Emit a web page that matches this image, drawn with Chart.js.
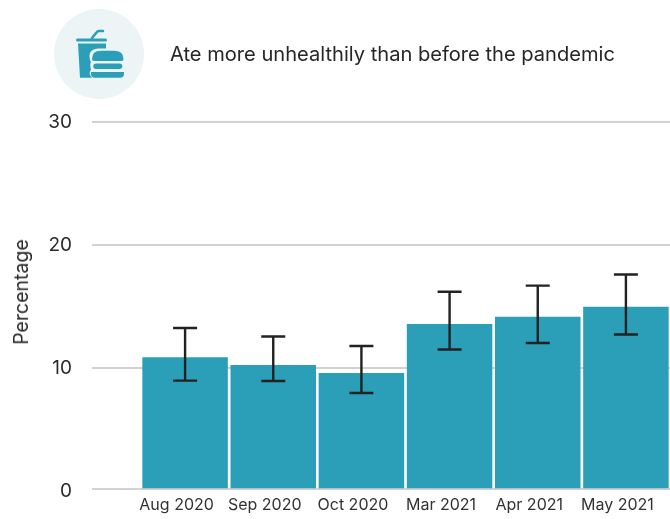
<!DOCTYPE html>
<html><head><meta charset="utf-8">
<style>
html,body{margin:0;padding:0;background:#fff;overflow:hidden}
#w{position:relative;width:670px;height:519px}
canvas{position:absolute;left:0;top:0}
#icon{position:absolute;left:54px;top:9px;width:90px;height:90px}
#t{position:absolute;left:170px;top:42px;font:20.1px/24px Inter,sans-serif;color:#262626;white-space:nowrap}
#yt{position:absolute;left:21px;top:292px;font:19.5px/22px Inter,sans-serif;color:#2b2b2b;white-space:nowrap;transform:translate(-50%,-50%) rotate(-90deg)}
</style>
<script src="https://cdn.jsdelivr.net/npm/chart.js@4"></script>
</head><body><div id="w">
<canvas id="c" width="670" height="519"></canvas>
<svg id="icon" viewBox="0 0 90 90">
<circle cx="45" cy="45" r="45" fill="#ecf4f6"/>
<path d="M38 29 L42.5 23.5 Q43.5 22 45 22 L49 22" fill="none" stroke="#2b9fb8" stroke-width="2.6" stroke-linecap="round"/>
<rect x="22" y="29.5" width="31" height="3" rx="1.5" fill="#2b9fb8"/>
<path d="M24 34.5 H52 V39.5 H44 Q35.5 40 35.5 47 Q35.5 51 37 53 Q35.5 56 37 60.5 Q34 65 38 68.7 H26 Z" fill="#2b9fb8"/>
<path d="M38 50 Q38 41.7 47 41.7 H60 Q69.5 41.7 69.5 50 Q69.5 52 67.5 52 H40 Q38 52 38 50 Z" fill="#2b9fb8"/>
<rect x="39.3" y="54.5" width="29" height="5.5" rx="2.7" fill="#2b9fb8"/>
<path d="M37 63 H70 V65 Q70 68.7 66 68.7 H41 Q37 68.7 37 65 Z" fill="#2b9fb8"/>
</svg>
<div id="t">Ate more unhealthily than before the pandemic</div>
<div id="yt">Percentage</div>
</div>
<script>
const categories=["Aug 2020","Sep 2020","Oct 2020","Mar 2021","Apr 2021","May 2021"];
const values=[10.87,10.24,9.6,13.58,14.17,14.98];
const errLow=[8.97,8.94,7.97,11.5,12.03,12.72];
const errHigh=[13.25,12.56,11.79,16.2,16.7,17.6];
const yTicks=[0,10,20,30];
const axisLineValue=0.16;
const fixArea={id:'fixArea',afterLayout(chart){
  const a=chart.chartArea,x=chart.scales.x,y=chart.scales.y,top=122,bottom=491;
  a.top=top;a.bottom=bottom;a.height=bottom-top;
  y.top=top;y.bottom=bottom;y.height=bottom-top;y.configure();
  x.top=bottom;x.bottom=519;x.height=519-bottom;x.configure();
}};
const errorBars={id:'errorBars',afterDatasetsDraw(chart){
  const c=chart.ctx,x=chart.scales.x,y=chart.scales.y;
  c.save();c.strokeStyle='#222';c.lineWidth=2.4;
  categories.forEach((_,i)=>{
    const px=x.getPixelForValue(i),lo=y.getPixelForValue(errLow[i]),hi=y.getPixelForValue(errHigh[i]);
    c.beginPath();c.moveTo(px,lo);c.lineTo(px,hi);
    c.moveTo(px-12,lo);c.lineTo(px+12,lo);
    c.moveTo(px-12,hi);c.lineTo(px+12,hi);c.stroke();
  });
  c.restore();
}};
new Chart(document.getElementById('c'),{
  type:'bar',
  data:{labels:categories,datasets:[{data:values,base:0.22,backgroundColor:'#2b9fb8',categoryPercentage:1,barPercentage:0.97}]},
  plugins:[fixArea,errorBars],
  options:{
    responsive:false,animation:false,
    layout:{padding:{top:122,right:0,left:0,bottom:0}},
    plugins:{legend:{display:false},tooltip:{enabled:false},title:{display:false}},
    scales:{
      x:{grid:{display:false,drawTicks:false},border:{display:false},
        ticks:{color:'#333',font:{family:'Inter',size:16},maxRotation:0,autoSkip:false,padding:5,labelOffset:-8.5},
        afterFit(s){s.height=28;}},
      y:{min:0,max:30,
        afterBuildTicks(s){s.ticks=[...yTicks,axisLineValue].map(v=>({value:v}));},
        afterFit(s){s.width=141;},
        grid:{color:c=>c.tick&&c.tick.value===0?'rgba(0,0,0,0)':'#d2d2d2',lineWidth:2,tickLength:49,
              tickColor:c=>c.tick&&c.tick.value===0?'rgba(0,0,0,0)':'#d2d2d2'},
        border:{display:false},
        ticks:{color:'#2b2b2b',font:{family:'Inter',size:19},padding:20,
               callback:v=>yTicks.includes(v)?String(v):''},
        title:{display:false}}
    }
  }
});
</script></body></html>
